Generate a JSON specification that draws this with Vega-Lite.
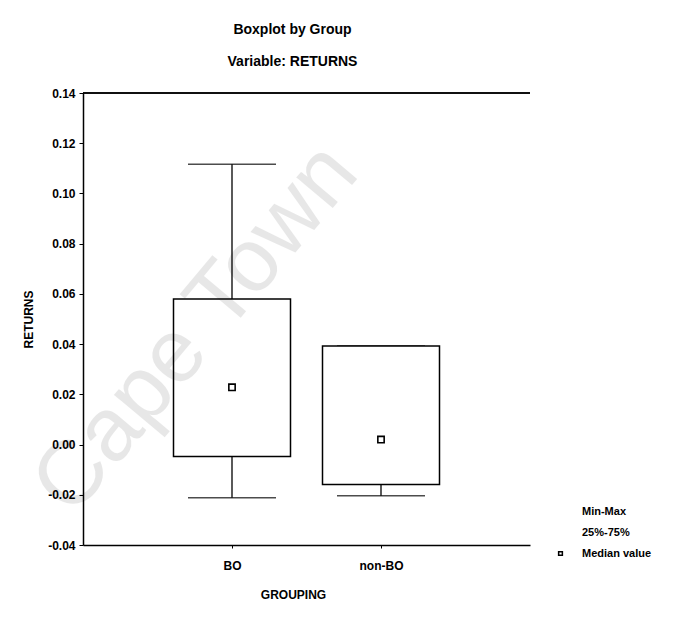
{
  "$schema": "https://vega.github.io/schema/vega-lite/v6.json",
  "width": 447,
  "height": 452,
  "autosize": "none",
  "padding": {"left": 83, "top": 93, "right": 149, "bottom": 77},
  "background": "white",
  "config": {
    "view": {"stroke": null},
    "font": "Liberation Sans",
    "axis": {"labelFont": "Liberation Sans", "titleFont": "Liberation Sans"}
  },
  "title": {
    "text": ["Boxplot by Group", "Variable: RETURNS"],
    "anchor": "middle",
    "font": "Liberation Sans",
    "fontSize": 14,
    "fontWeight": "bold",
    "color": "black",
    "lineHeight": 32,
    "offset": 18,
    "dx": -14
  },
  "datasets": {
    "boxes": [
      {"group": "BO", "min": -0.0212, "q1": -0.0048, "median": 0.0228, "q3": 0.058, "max": 0.1116, "series": "Median value"},
      {"group": "non-BO", "min": -0.0204, "q1": -0.0159, "median": 0.002, "q3": 0.0392, "max": 0.0392, "series": "Median value"}
    ],
    "mark": [{"wm": "Cape Town"}]
  },
  "layer": [
    {
      "data": {"name": "boxes"},
      "mark": {"type": "rule", "color": "black", "strokeWidth": 1.3},
      "encoding": {
        "x": {
          "field": "group",
          "type": "nominal",
          "scale": {"type": "point", "domain": ["BO", "non-BO"], "padding": 1.02},
          "axis": {
            "labelAngle": 0,
            "title": "GROUPING",
            "domainColor": "black",
            "domainWidth": 1.5,
            "tickColor": "black",
            "tickSize": 3,
            "labelFontSize": 12,
            "labelFontWeight": "bold",
            "labelColor": "black",
            "labelPadding": 12,
            "titleFontSize": 12,
            "titleFontWeight": "bold",
            "titleColor": "black",
            "titlePadding": 18,
            "titleX": 210
          }
        },
        "y": {
          "field": "min",
          "type": "quantitative",
          "scale": {"domain": [-0.04, 0.14], "nice": false, "zero": false},
          "axis": {
            "values": [-0.04, -0.02, 0, 0.02, 0.04, 0.06, 0.08, 0.1, 0.12, 0.14],
            "labelExpr": "replace(format(datum.value, '.2f'), '−', '-')",
            "grid": false,
            "domainColor": "black",
            "domainWidth": 1.5,
            "tickColor": "black",
            "tickSize": 4,
            "labelFontSize": 12,
            "labelFontWeight": "bold",
            "labelColor": "black",
            "labelPadding": 4,
            "title": "RETURNS",
            "titleFontSize": 12,
            "titleFontWeight": "bold",
            "titleColor": "black",
            "titlePadding": 12
          }
        },
        "y2": {"field": "max"}
      }
    },
    {
      "data": {"name": "boxes"},
      "mark": {"type": "tick", "color": "black", "size": 88, "thickness": 1.5},
      "encoding": {
        "x": {"field": "group", "type": "nominal"},
        "y": {"field": "min", "type": "quantitative"}
      }
    },
    {
      "data": {"name": "boxes"},
      "mark": {"type": "tick", "color": "black", "size": 88, "thickness": 1.5},
      "encoding": {
        "x": {"field": "group", "type": "nominal"},
        "y": {"field": "max", "type": "quantitative"}
      }
    },
    {
      "data": {"name": "boxes"},
      "mark": {"type": "bar", "fill": "white", "stroke": "black", "strokeWidth": 1.5, "size": 117},
      "encoding": {
        "x": {"field": "group", "type": "nominal"},
        "y": {"field": "q1", "type": "quantitative"},
        "y2": {"field": "q3"}
      }
    },
    {
      "data": {"name": "boxes"},
      "mark": {"type": "point", "filled": false, "color": "black", "fill": "white", "strokeWidth": 1.6, "size": 40, "opacity": 1},
      "encoding": {
        "x": {"field": "group", "type": "nominal"},
        "y": {"field": "median", "type": "quantitative"},
        "shape": {
          "field": "series",
          "type": "nominal",
          "scale": {"domain": ["Min-Max", "25%-75%", "Median value"], "range": ["M0,0", "M0,0", "square"]},
          "legend": {
            "orient": "none",
            "legendX": 472,
            "legendY": 413,
            "title": null,
            "labelFont": "Liberation Sans",
            "labelFontSize": 11,
            "labelFontWeight": "bold",
            "labelColor": "black",
            "rowPadding": 9,
            "labelOffset": 16,
            "symbolSize": 14,
            "encode": {
              "symbols": {
                "update": {
                  "fill": {"value": "black"},
                  "stroke": {"value": "black"},
                  "strokeWidth": {"value": 1.5},
                  "opacity": {"value": 1}
                }
              }
            }
          }
        }
      }
    },
    {
      "data": {"name": "boxes"},
      "mark": {"type": "rule", "color": "black", "strokeWidth": 1.5},
      "encoding": {"y": {"datum": 0.14}}
    },
    {
      "data": {"name": "mark"},
      "mark": {"type": "text", "angle": -50, "align": "center", "baseline": "middle", "font": "Liberation Sans", "fontSize": 90, "color": "black", "opacity": 0.09, "dx": -50, "dy": -5},
      "encoding": {
        "x": {"datum": "BO"},
        "y": {"datum": 0.06},
        "text": {"field": "wm"}
      }
    }
  ]
}
